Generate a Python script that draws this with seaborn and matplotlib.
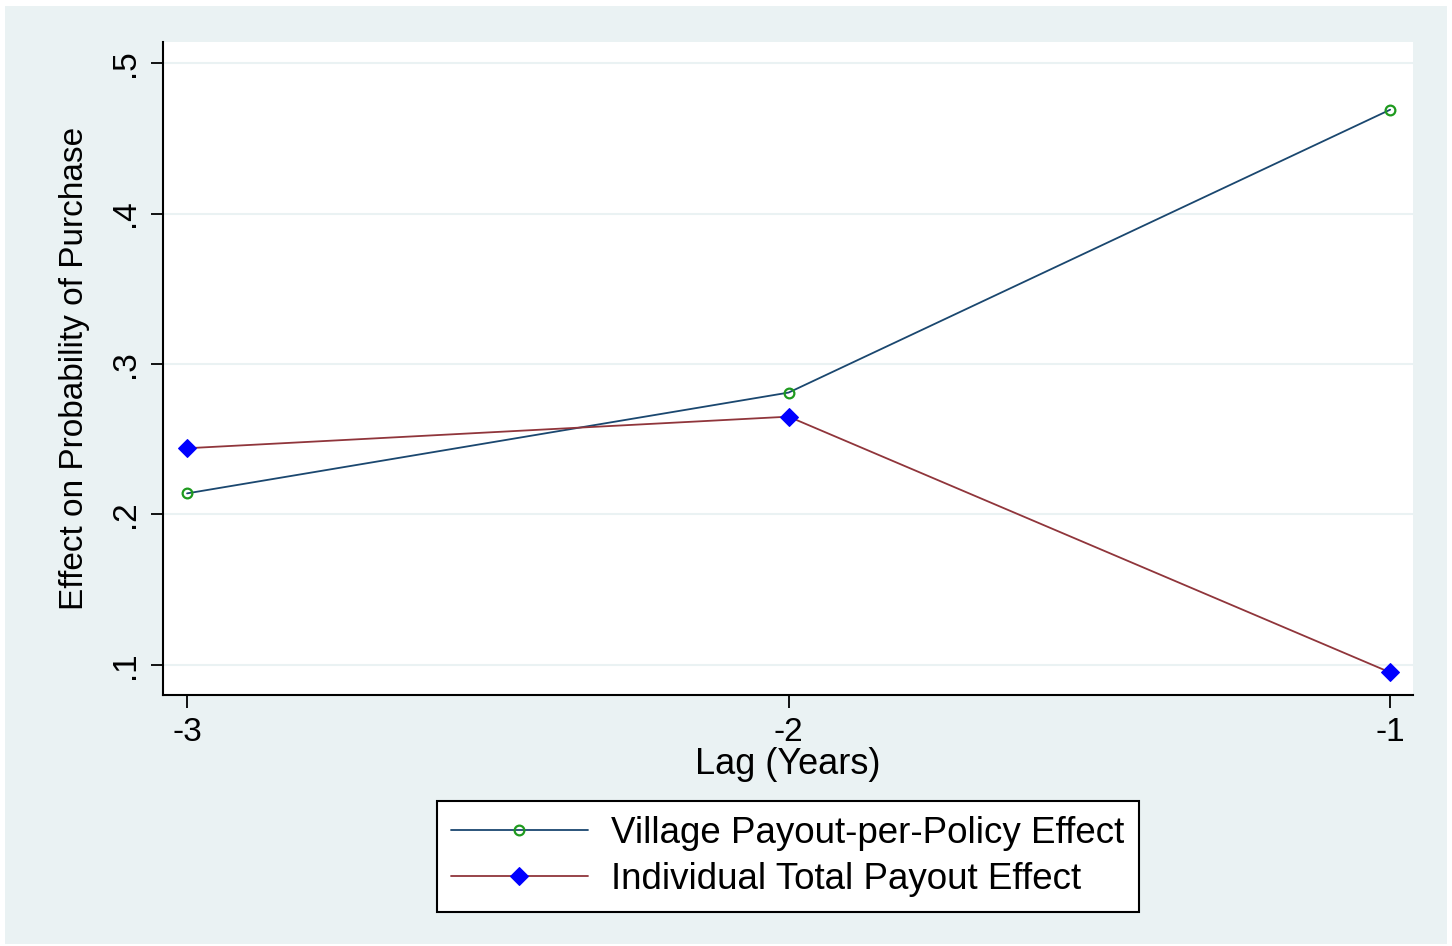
import matplotlib
matplotlib.use("Agg")
import matplotlib.pyplot as plt
from matplotlib.patches import Rectangle
import seaborn as sns
import pandas as pd

# Lag in years and estimated effects for each specification
lags = [-3, -2, -1]
village_effect = [0.214, 0.281, 0.469]
individual_effect = [0.244, 0.265, 0.095]
series_names = ["Village Payout-per-Policy Effect", "Individual Total Payout Effect"]
y_ticks = [0.1, 0.2, 0.3, 0.4, 0.5]
y_tick_labels = [".1", ".2", ".3", ".4", ".5"]

sns.set_theme(style="white")
plt.rcParams["font.family"] = ["Liberation Sans", "DejaVu Sans"]
plt.rcParams["text.color"] = "black"
plt.rcParams["axes.labelcolor"] = "black"
plt.rcParams["xtick.color"] = "black"
plt.rcParams["ytick.color"] = "black"

BG = "#EAF2F3"
NAVY = "#1A476F"
MAROON = "#90353B"

df = pd.DataFrame({
    "lag": lags * 2,
    "effect": village_effect + individual_effect,
    "series": [series_names[0]] * 3 + [series_names[1]] * 3,
})

W, H = 1452, 946
fig = plt.figure(figsize=(W / 100, H / 100), dpi=100)
fig.patch.set_facecolor("white")
fig.patches.append(Rectangle((5 / W, 2 / H), (W - 10) / W, (H - 8) / H,
                             transform=fig.transFigure, facecolor=BG,
                             edgecolor="none", zorder=-10))

ax = fig.add_axes([163 / W, 1 - 695 / H, (1413 - 163) / W, (695 - 42) / H])
ax.set_facecolor("white")

v = df[df["series"] == series_names[0]]
i = df[df["series"] == series_names[1]]
sns.lineplot(data=v, x="lag", y="effect", ax=ax, color=NAVY, linewidth=1.3,
             marker="o", markersize=7, markerfacecolor="none",
             markeredgecolor="#1E9A1E", markeredgewidth=1.6,
             label=series_names[0])
sns.lineplot(data=i, x="lag", y="effect", ax=ax, color=MAROON, linewidth=1.3,
             marker="D", markersize=9, markerfacecolor="#0000FF",
             markeredgecolor="#0000FF", label=series_names[1])

ax.set_xlim(-3.04, -0.962)
ax.set_ylim(0.080, 0.514)
ax.set_xticks(lags)
ax.set_xticklabels([str(x) for x in lags], fontsize=24)
ax.set_yticks(y_ticks)
ax.set_yticklabels(y_tick_labels, fontsize=24, rotation=90, va="center")
for y in y_ticks:
    ax.axhline(y, color=BG, linewidth=1.5, zorder=0)

ax.tick_params(axis="both", direction="out", length=9, width=1.3,
               color="black", pad=7, bottom=True, left=True)
ax.spines["top"].set_visible(False)
ax.spines["right"].set_visible(False)
for s in ("left", "bottom"):
    ax.spines[s].set_color("black")
    ax.spines[s].set_linewidth(1.5)

ax.set_xlabel("Lag (Years)", fontsize=26, labelpad=-1)
ax.set_ylabel("Effect on Probability of Purchase", fontsize=24, labelpad=14)

leg = ax.legend(loc="upper center", bbox_to_anchor=(0.5, -0.163),
                fontsize=26.5, frameon=True, fancybox=False, handlelength=3.7,
                borderpad=0.4, labelspacing=0.3, handletextpad=0.65,
                borderaxespad=0)
leg.get_frame().set_edgecolor("black")
leg.get_frame().set_linewidth(1.5)
leg.get_frame().set_facecolor("white")
leg.get_frame().set_alpha(1)

fig.savefig("out.png", dpi=100)
